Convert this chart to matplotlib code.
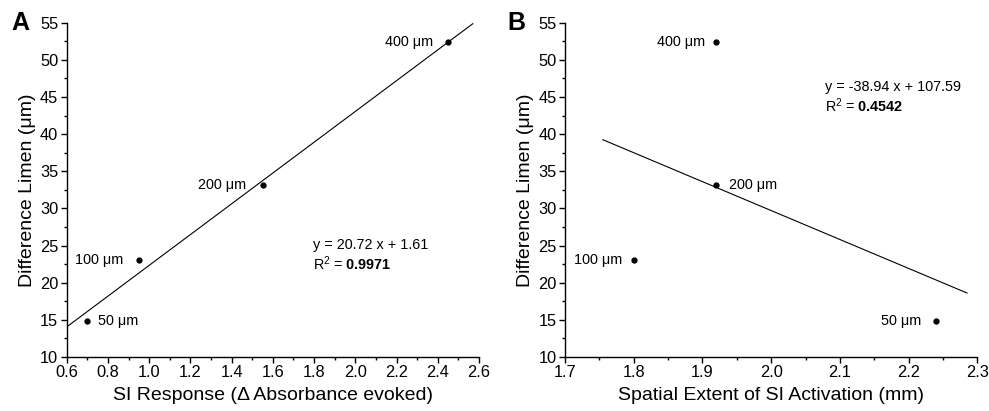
import matplotlib
matplotlib.use("Agg")
import matplotlib.pyplot as plt
from matplotlib.ticker import MultipleLocator

plt.rcParams['font.family'] = ['Liberation Sans', 'DejaVu Sans']
plt.rcParams['mathtext.fontset'] = 'custom'
plt.rcParams['mathtext.rm'] = 'Liberation Sans'
plt.rcParams['mathtext.bf'] = 'Liberation Sans:bold'

# data
labels = ["50 μm", "100 μm", "200 μm", "400 μm"]
limen = [14.8, 23.0, 33.2, 52.4]
si_response = [0.70, 0.95, 1.55, 2.45]
spatial_extent = [2.24, 1.80, 1.92, 1.92]

fit_a = (20.72, 1.61)
fit_a_range = (0.6, 2.57)
fit_b = (-38.94, 107.59)
fit_b_range = (1.755, 2.285)

# label offsets (points) for each dot
offs_a = [(8, 0, 'left'), (-11, 0, 'right'), (-12, 0, 'right'), (-11, 0, 'right')]
offs_b = [(-11, 0, 'right'), (-8, 0, 'right'), (9, 0, 'left'), (-8, 0, 'right')]

fig = plt.figure(figsize=(9.89, 4.11), dpi=100)
ax_a = fig.add_axes([0.0674, 0.1314, 0.4169, 0.8134])
ax_b = fig.add_axes([0.5713, 0.1314, 0.4169, 0.8134])


def style(ax):
    for s in ['top', 'right']:
        ax.spines[s].set_visible(False)
    ax.spines['left'].set_linewidth(1.0)
    ax.spines['bottom'].set_linewidth(1.0)
    ax.tick_params(which='major', direction='out', length=4, width=1, labelsize=11.8, pad=2)
    ax.tick_params(which='minor', direction='out', length=2.5, width=1)
    ax.set_ylim(10, 55)
    ax.yaxis.set_major_locator(MultipleLocator(5))
    ax.yaxis.set_minor_locator(MultipleLocator(2.5))
    ax.set_ylabel("Difference Limen (μm)", fontsize=14, labelpad=3)


def draw(ax, xs, fit, rng, offs):
    m, b = fit
    ax.plot(list(rng), [m * rng[0] + b, m * rng[1] + b], color='black', lw=0.8)
    ax.plot(xs, limen, 'o', color='black', markersize=3.5, clip_on=False)
    for x, y, lab, (dx, dy, ha) in zip(xs, limen, labels, offs):
        ax.annotate(lab, (x, y), xytext=(dx, dy), textcoords='offset points',
                    ha=ha, va='center', fontsize=10.4)


style(ax_a)
ax_a.set_xlim(0.6, 2.6)
ax_a.xaxis.set_major_locator(MultipleLocator(0.2))
ax_a.xaxis.set_minor_locator(MultipleLocator(0.1))
ax_a.xaxis.set_major_formatter(lambda v, p: f"{v:.1f}")
ax_a.set_xlabel("SI Response (Δ Absorbance evoked)", fontsize=14, labelpad=5)
draw(ax_a, si_response, fit_a, fit_a_range, offs_a)
ax_a.text(1.795, 25.1, "y = 20.72 x + 1.61", fontsize=10.4, va='center')
ax_a.text(1.795, 22.6, r"R$^2$ = $\mathbf{0.9971}$", fontsize=10.4, va='center')

style(ax_b)
ax_b.set_xlim(1.7, 2.3)
ax_b.xaxis.set_major_locator(MultipleLocator(0.1))
ax_b.xaxis.set_minor_locator(MultipleLocator(0.05))
ax_b.xaxis.set_major_formatter(lambda v, p: f"{v:.1f}")
ax_b.set_xlabel("Spatial Extent of SI Activation (mm)", fontsize=14, labelpad=5)
draw(ax_b, spatial_extent, fit_b, fit_b_range, offs_b)
ax_b.text(2.078, 46.3, "y = -38.94 x + 107.59", fontsize=10.4, va='center')
ax_b.text(2.078, 43.8, r"R$^2$ = $\mathbf{0.4542}$", fontsize=10.4, va='center')

fig.text(0.011, 0.945, "A", fontsize=18, fontweight='bold', va='center')
fig.text(0.513, 0.945, "B", fontsize=18, fontweight='bold', va='center')

fig.savefig("out.png", dpi=100)
